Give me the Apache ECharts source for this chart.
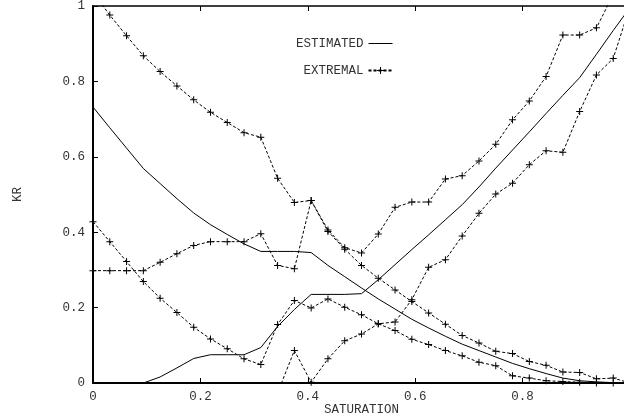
<!DOCTYPE html>
<html>
<head>
<meta charset="utf-8">
<script src="https://cdn.jsdelivr.net/npm/echarts@6/dist/echarts.min.js"></script>
<style>html,body{margin:0;padding:0;background:#fff}#c{width:624px;height:420px}</style>
</head>
<body>
<div id="c"></div>
<script>
// Saturation nodes (x values)
var saturation = [0,0.03125,0.0625,0.09375,0.125,0.15625,0.1875,0.21875,0.25,0.28125,0.3125,0.34375,0.375,0.40625,0.4375,0.46875,0.5,0.53125,0.5625,0.59375,0.625,0.65625,0.6875,0.71875,0.75,0.78125,0.8125,0.84375,0.875,0.90625,0.9375,0.96875,1.0];

// Estimated curves (solid)
var estDecreasing = [0.732,0.677,0.623,0.569,0.529,0.489,0.451,0.420,0.394,0.369,0.349,0.349,0.349,0.346,0.312,0.282,0.252,0.223,0.196,0.169,0.146,0.124,0.103,0.086,0.069,0.052,0.038,0.025,0.013,0.006,0.003,0.001,0];
var estIncreasing = [0,0,0,0,0.016,0.040,0.065,0.075,0.075,0.075,0.094,0.150,0.195,0.235,0.235,0.235,0.237,0.274,0.314,0.354,0.393,0.433,0.473,0.520,0.570,0.618,0.666,0.715,0.763,0.810,0.872,0.935,0.996];

// Extremal curves (dashed with + markers)
var extDecUpper = [1.035,0.976,0.921,0.868,0.826,0.788,0.751,0.718,0.691,0.664,0.652,0.543,0.479,0.484,0.402,0.355,0.312,0.278,0.247,0.216,0.186,0.156,0.126,0.106,0.084,0.078,0.057,0.047,0.029,0.028,0.011,0.013,0];
var extDecLower = [0.428,0.375,0.322,0.269,0.225,0.187,0.148,0.117,0.091,0.064,0.049,0.155,0.219,0.199,0.223,0.201,0.181,0.157,0.139,0.116,0.102,0.086,0.072,0.055,0.046,0.019,0.013,0.006,0.004,0.002,0,0,0];
var extIncUpper = [0.298,0.298,0.298,0.298,0.320,0.343,0.365,0.375,0.375,0.375,0.396,0.312,0.303,0.484,0.406,0.359,0.345,0.395,0.466,0.480,0.480,0.541,0.550,0.589,0.633,0.698,0.748,0.813,0.923,0.923,0.942,1.03,1.12];
var extIncLower = [null,null,null,null,null,null,null,null,null,null,null,-0.026,0.086,0.002,0.064,0.112,0.130,0.157,0.162,0.221,0.307,0.327,0.39,0.45,0.501,0.530,0.579,0.616,0.612,0.720,0.817,0.861,0.999];

// Axis ticks
var xTicks = {min: 0, max: 1, interval: 0.2};
var yTicks = {min: 0, max: 1, interval: 0.2};

function pairs(xs, ys) {
  var out = [];
  for (var i = 0; i < xs.length; i++) {
    if (ys[i] !== null) out.push([xs[i], ys[i]]);
  }
  return out;
}

var FONT = 'Liberation Mono';
var TXT = {fontFamily: FONT, fontSize: 12.5, color: '#333'};
var plus = 'path://M0,3L7,3L7,4L0,4Z M3,0L4,0L4,7L3,7Z';
var solidIcon = 'path://M0,4L24,4L24,5L0,5Z';

function solid(ys) {
  return {
    name: 'ESTIMATED', type: 'line', data: pairs(saturation, ys),
    symbol: 'none', showSymbol: false,
    lineStyle: {color: '#000', width: 1},
    itemStyle: {color: '#000'},
    clip: true, z: 3
  };
}
function dashed(ys) {
  return {
    name: 'EXTREMAL', type: 'line', data: pairs(saturation, ys),
    symbol: plus, symbolSize: 7, showSymbol: true, showAllSymbol: true,
    lineStyle: {color: '#000', width: 1, type: [3, 2]},
    itemStyle: {color: '#000', borderWidth: 0},
    clip: true, z: 4
  };
}

var chart = echarts.init(document.getElementById('c'), null, {renderer: 'canvas'});
chart.setOption({
  animation: false,
  backgroundColor: '#fff',
  textStyle: {fontFamily: FONT},
  grid: {left: 93, right: -6, top: 6, bottom: 37, containLabel: false, outerBoundsMode: 'none'},
  legend: {
    orient: 'vertical', align: 'right', left: 296, top: 37,
    padding: 0, itemWidth: 24, itemHeight: 9, itemGap: 14,
    textStyle: TXT,
    data: [{name: 'ESTIMATED', icon: solidIcon}, {name: 'EXTREMAL'}]
  },
  xAxis: [{
    type: 'value', position: 'bottom', min: xTicks.min, max: xTicks.max, interval: xTicks.interval,
    name: 'SATURATION', nameLocation: 'middle', nameGap: 20, nameMoveOverlap: false, nameTextStyle: TXT,
    axisLine: {lineStyle: {color: '#000', width: 2}},
    axisTick: {inside: true, length: 5, lineStyle: {color: '#000', width: 1}},
    axisLabel: Object.assign({margin: 7}, TXT),
    splitLine: {show: false}
  }, {
    type: 'value', position: 'top', min: xTicks.min, max: xTicks.max, interval: xTicks.interval,
    axisLine: {show: true, lineStyle: {color: '#000', width: 1.5}},
    axisTick: {inside: true, length: 5, lineStyle: {color: '#000', width: 1}},
    axisLabel: {show: false},
    splitLine: {show: false}
  }],
  yAxis: {
    type: 'value', min: yTicks.min, max: yTicks.max, interval: yTicks.interval,
    name: 'KR', nameLocation: 'middle', nameGap: 69, nameMoveOverlap: false, nameTextStyle: TXT,
    axisLine: {show: true, lineStyle: {color: '#000', width: 2}},
    axisTick: {show: true, inside: true, length: 5, lineStyle: {color: '#000', width: 1}},
    axisLabel: Object.assign({margin: 8}, TXT),
    splitLine: {show: false}
  },
  series: [
    solid(estDecreasing),
    solid(estIncreasing),
    dashed(extDecUpper),
    dashed(extDecLower),
    dashed(extIncUpper),
    dashed(extIncLower)
  ]
});
</script>
</body>
</html>
